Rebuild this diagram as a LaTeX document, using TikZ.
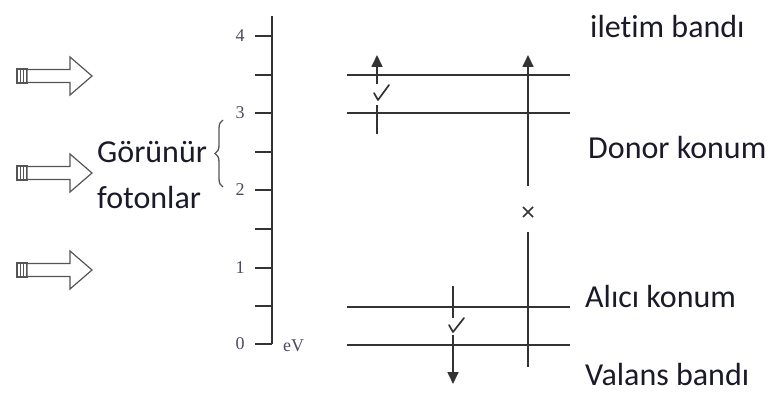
\documentclass[tikz,border=0pt]{standalone}
\usepackage{fontspec}
\setmainfont[Ligatures=NoCommon,RawFeature={-liga;-clig;-calt}]{Carlito}
\newfontfamily\numfont{Liberation Serif}
\usetikzlibrary{arrows.meta,decorations.pathreplacing}
\definecolor{lin}{HTML}{333333}
\definecolor{agray}{HTML}{555555}
\definecolor{ncol}{HTML}{4A4A66}
\definecolor{tcol}{HTML}{1A1A2A}
\tikzset{
  level/.style={draw=lin,line width=2.4pt},
  trans/.style={draw=lin,line width=1.7pt},
  tip/.style={-{Triangle[length=12pt,width=11pt]}},
  lbl/.style={anchor=base west,inner sep=0pt,text=tcol,font=\fontsize{32}{32}\selectfont},
  num/.style={inner sep=0pt,text=ncol,font=\numfont\fontsize{18}{18}\selectfont},
  tick/.style={draw=lin,line width=1.8pt},
  barrow/.style={draw=agray,line width=1.2pt,fill=white},
  chk/.style={draw=lin,line width=1.7pt,line cap=round,line join=round},
}
\begin{document}
\begin{tikzpicture}[x=1pt,y=-1pt]
\useasboundingbox (0,0) rectangle (768,401);
% block arrows
\foreach \yy/\nm in {76/a1,173/a2,270/a3}{
  \draw[barrow] (17,\yy-7) rectangle (27,\yy+7);
  \draw[agray,line width=1.2pt] (20.5,\yy-7) -- (20.5,\yy+7) (23.5,\yy-7) -- (23.5,\yy+7);
  \draw[barrow] (27,\yy-6.5) -- (70,\yy-6.5) -- (70,\yy-19) -- (92,\yy) coordinate (\nm) -- (70,\yy+19) -- (70,\yy+6.5) -- (27,\yy+6.5) -- cycle;
}
% texts left
\node[lbl] (gor) at (97,162) {Görünür};
\node[lbl] (fot) at (97,208) {fotonlar};
% brace
\draw[agray,line width=1.3pt,decorate,decoration={brace,amplitude=8pt}] (223,187) -- (223,120);
% axis
\draw[draw=lin,line width=1.8pt] (272,16) -- (272,344);
\foreach \yy in {36,75,113,152,190,229,268,306,344}{
  \draw[tick] (255,\yy) -- (272,\yy);
}
\node[num] (n4) at (240,36) {4};
\node[num] (n3) at (240,113) {3};
\node[num] (n2) at (240,190) {2};
\node[num] (n1) at (240,268) {1};
\node[num] (n0) at (240,344) {0};
\node[num,anchor=west] (ev) at (283,346) {eV};
% levels
\coordinate (c1) at (347,75);  \coordinate (c2) at (570,75);
\coordinate (d1) at (347,113); \coordinate (d2) at (570,113);
\coordinate (e1) at (347,307); \coordinate (e2) at (570,307);
\coordinate (v1) at (347,345); \coordinate (v2) at (570,345);
\draw[level] (c1) -- (c2);
\draw[level] (d1) -- (d2);
\draw[level] (e1) -- (e2);
\draw[level] (v1) -- (v2);
% transition 1
\coordinate (t1a) at (377,134); \coordinate (t1b) at (377,105);
\coordinate (t1c) at (377,84);  \coordinate (t1d) at (377,55);
\draw[trans] (t1a) -- (t1b);
\draw[trans,tip] (t1c) -- (t1d);
\draw[chk] (374,93) -- (378,100) -- (389,85);
% transition 2
\coordinate (t2a) at (528,186); \coordinate (t2b) at (528,55);
\coordinate (t2c) at (528,232); \coordinate (t2d) at (528,367);
\draw[trans,tip] (t2a) -- (t2b);
\draw[trans] (t2c) -- (t2d);
\draw[draw=lin,line width=1.6pt] (523,207) -- (533,217) (523,217) -- (533,207);
% transition 3
\coordinate (t3a) at (453,286); \coordinate (t3b) at (453,318);
\coordinate (t3c) at (453,335); \coordinate (t3d) at (453,384);
\draw[trans] (t3a) -- (t3b);
\draw[trans,tip] (t3c) -- (t3d);
\draw[chk] (449,325) -- (453,332) -- (464,318);
% right labels
\node[lbl] (il) at (590,38) {iletim bandı};
\node[lbl] (dk) at (588,158) {Donor konum};
\node[lbl] (ak) at (585,307) {Alıcı konum};
\node[lbl] (vb) at (585,385) {Valans bandı};
\end{tikzpicture}
\end{document}
